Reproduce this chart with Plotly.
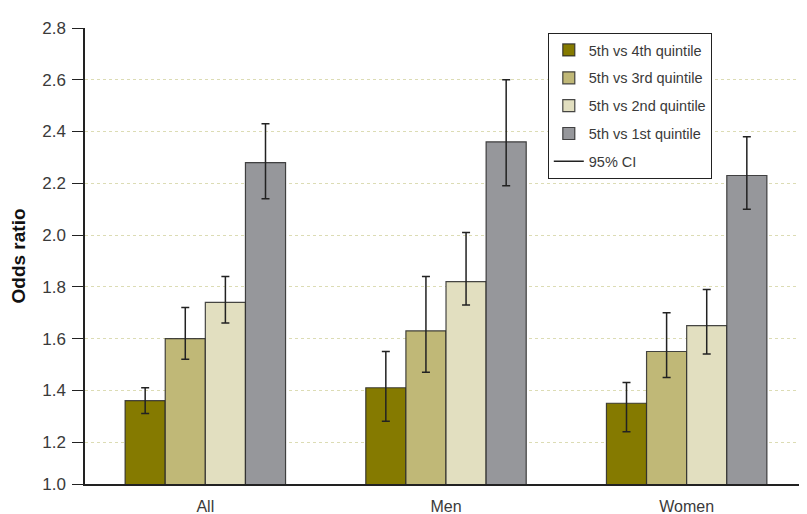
import plotly.graph_objects as go

groups = ["All", "Men", "Women"]
series_names = ["5th vs 4th quintile", "5th vs 3rd quintile", "5th vs 2nd quintile", "5th vs 1st quintile"]
odds_4th = [1.36, 1.41, 1.35]
odds_3rd = [1.60, 1.63, 1.55]
odds_2nd = [1.74, 1.82, 1.65]
odds_1st = [2.28, 2.36, 2.23]
ci_low_4th = [1.31, 1.28, 1.24]
ci_high_4th = [1.41, 1.55, 1.43]
ci_low_3rd = [1.52, 1.47, 1.45]
ci_high_3rd = [1.72, 1.84, 1.70]
ci_low_2nd = [1.66, 1.73, 1.54]
ci_high_2nd = [1.84, 2.01, 1.79]
ci_low_1st = [2.14, 2.19, 2.10]
ci_high_1st = [2.43, 2.60, 2.38]

y_tick_vals = [1.038, 1.2, 1.4, 1.6, 1.8, 2.0, 2.2, 2.4, 2.6, 2.8]
y_tick_text = ["1.0", "1.2", "1.4", "1.6", "1.8", "2.0", "2.2", "2.4", "2.6", "2.8"]

colors = ["#857a00", "#c0b877", "#e2dfc0", "#96979b"]
values = [odds_4th, odds_3rd, odds_2nd, odds_1st]
lows = [ci_low_4th, ci_low_3rd, ci_low_2nd, ci_low_1st]
highs = [ci_high_4th, ci_high_3rd, ci_high_2nd, ci_high_1st]

FONT = "Liberation Sans, Arial, Helvetica, sans-serif"

fig = go.Figure()
for i, (name, col, v, lo, hi) in enumerate(zip(series_names, colors, values, lows, highs)):
    fig.add_trace(go.Bar(
        x=groups, y=v, name=name, legendgroup=f"g{i}",
        marker=dict(color=col, line=dict(color="rgba(40,40,40,0.85)", width=1.2)),
        error_y=dict(type="data", symmetric=False,
                     array=[h - x for h, x in zip(hi, v)],
                     arrayminus=[x - l for x, l in zip(v, lo)],
                     color="#222222", thickness=1.5, width=4),
    ))

fig.add_trace(go.Scatter(
    x=[None], y=[None], mode="lines", name="95% CI", legendgroup="ci",
    line=dict(color="#222222", width=1.5),
))

# page body has an 8px default margin, so the figure is sized to end at the window edge
fig.update_layout(
    width=799, height=506,
    margin=dict(l=77, r=0, t=20, b=30),
    paper_bgcolor="white", plot_bgcolor="white",
    barmode="group", bargap=1/3, bargroupgap=0,
    font=dict(family=FONT, size=16, color="#3a3a3a"),
    showlegend=True,
    legend=dict(
        x=0.641, y=0.989, xanchor="left", yanchor="top",
        bordercolor="#222222", borderwidth=1, bgcolor="white",
        font=dict(family=FONT, size=14.5, color="#3a3a3a"),
        tracegroupgap=6, itemwidth=30,
    ),
    xaxis=dict(
        range=[-0.5, 2.5], showline=True, linecolor="#222222", linewidth=1.5,
        ticks="", showgrid=False, automargin=False, ticklabelstandoff=7,
        tickfont=dict(size=16, color="#3a3a3a"),
    ),
    yaxis=dict(
        range=[1.038, 2.8], tickvals=y_tick_vals, ticktext=y_tick_text,
        showline=True, linecolor="#222222", linewidth=1.5,
        ticks="outside", ticklen=11, tickcolor="#222222", tickwidth=1.2,
        ticklabelstandoff=3,
        showgrid=True, gridcolor="#dcdcb4", griddash="3px,3px", gridwidth=1,
        zeroline=False, automargin=False,
        title=dict(text="<b>Odds ratio</b>",
                   font=dict(family=FONT, size=19, color="#111111"),
                   standoff=18),
        tickfont=dict(size=17, color="#3a3a3a"),
    ),
)

fig.write_html("out.html")
